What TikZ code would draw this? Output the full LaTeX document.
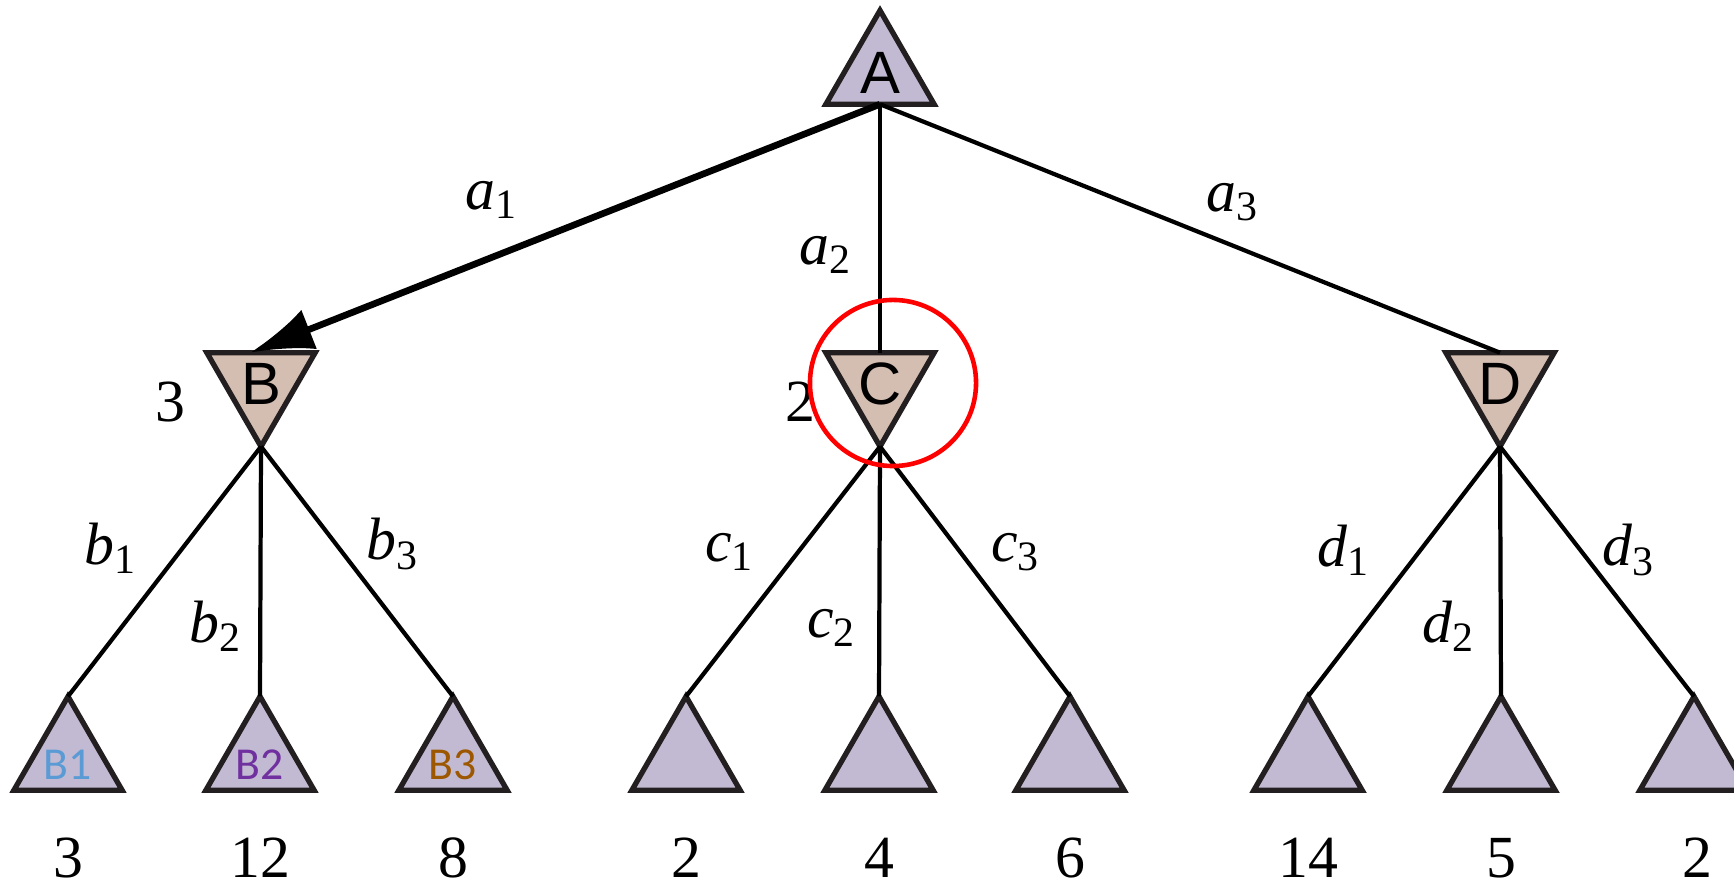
\documentclass[tikz,border=0pt]{standalone}
\usepackage{fontspec}
\setmainfont{Liberation Serif}
\newfontfamily\letterfont{Liberation Sans}
\newfontfamily\leaffont{Carlito}
\usepackage{xcolor}
\usetikzlibrary{shapes.geometric,arrows.meta,calc}

\definecolor{maxfill}{RGB}{194,186,210}
\definecolor{minfill}{RGB}{212,189,177}
\definecolor{rimgray}{RGB}{35,31,32}
\definecolor{leafblue}{RGB}{91,155,213}
\definecolor{leafpurple}{RGB}{112,48,160}
\definecolor{leafbrown}{RGB}{156,87,0}

\newcommand{\mv}[2]{\textit{#1}\textsubscript{#2}}

\tikzset{
  maxnode/.style={regular polygon, regular polygon sides=3, minimum size=1.25cm,
    inner sep=0pt, outer sep=0pt, draw=rimgray, line width=1.5pt, fill=maxfill,
    font=\letterfont\fontsize{17pt}{17pt}\selectfont},
  minnode/.style={maxnode, fill=minfill, shape border rotate=180},
  leaftext/.style={inner sep=0pt, font=\leaffont\fontsize{13pt}{13pt}\selectfont},
  branch/.style={line width=1.2pt, black},
  edgelabel/.style={font=\fontsize{17pt}{17pt}\selectfont},
  value/.style={inner sep=0pt, font=\fontsize{17pt}{17pt}\selectfont},
}

\begin{document}
\begin{tikzpicture}[x=0.01cm, y=-0.01cm]
  \useasboundingbox (0,0) rectangle (1734,886);

  % Root and MIN level
  \node[maxnode] (A) at (880,73) {A};
  \node[minnode] (B) at (261,384) {B};
  \node[minnode] (C) at (880,384) {C};
  \node[minnode] (D) at (1500,384) {D};

  % Leaves
  \foreach \name/\x in {B1/68, B2/260, B3/453, C1/686, C2/879, C3/1070,
      D1/1308, D2/1501, D3/1694} {
    \node[maxnode] (\name) at (\x,759) {};
  }
  \node[leaftext, text=leafblue] (tB1) at (68,765) {B1};
  \node[leaftext, text=leafpurple] (tB2) at (260,765) {B2};
  \node[leaftext, text=leafbrown] (tB3) at (453,765) {B3};

  % Branches
  \draw[branch, line width=1.9pt, -{Latex[length=18pt, width=12pt]}]
    (A.side 2) -- ($(B.corner 3)!0.4!(B.corner 2)$);
  \draw[branch] (A.side 2) -- (C.side 2);
  \draw[branch] (A.side 2) -- (D.side 2);
  \foreach \p in {B,C,D} {
    \foreach \i in {1,2,3} {
      \draw[branch] (\p.corner 1) -- (\p\i.corner 1);
    }
  }

  % Branch labels
  \node[edgelabel] (la1) at (492,200) {\mv{a}{1}};
  \node[edgelabel] (la2) at (826,255) {\mv{a}{2}};
  \node[edgelabel] (la3) at (1233,202) {\mv{a}{3}};
  \node[edgelabel] (lb1) at (111,548) {\mv{b}{1}};
  \node[edgelabel] (lb2) at (216,626) {\mv{b}{2}};
  \node[edgelabel] (lb3) at (393,544) {\mv{b}{3}};
  \node[edgelabel] (lc1) at (730,552) {\mv{c}{1}};
  \node[edgelabel] (lc2) at (832,628) {\mv{c}{2}};
  \node[edgelabel] (lc3) at (1016,552) {\mv{c}{3}};
  \node[edgelabel] (ld1) at (1344,550) {\mv{d}{1}};
  \node[edgelabel] (ld2) at (1449,626) {\mv{d}{2}};
  \node[edgelabel] (ld3) at (1629,550) {\mv{d}{3}};

  % Backed-up values
  \node[value] (vB) at (170,402) {3};
  \node[value] (vC) at (800,402) {2};
  \foreach \x/\v in {68/3, 260/12, 453/8, 686/2, 879/4, 1070/6, 1308/14, 1501/5, 1697/2} {
    \node[value] (v\x) at (\x,858) {\v};
  }

  % Highlight on C
  \node[circle, draw=red, line width=1.3pt, minimum size=1.66cm, inner sep=0pt] (focus) at (893,383) {};
\end{tikzpicture}
\end{document}
